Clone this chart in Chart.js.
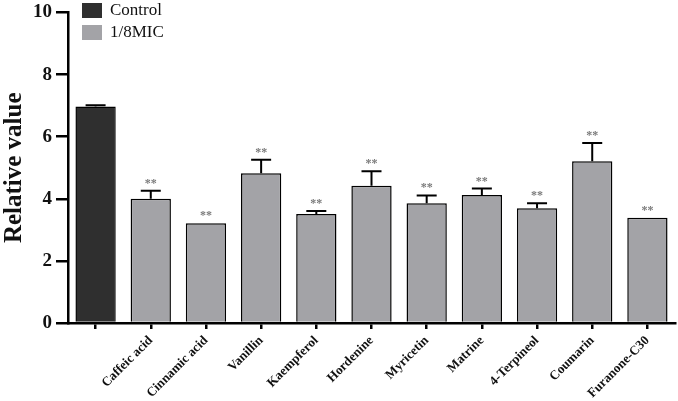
<!DOCTYPE html>
<html>
<head>
<meta charset="utf-8">
<script src="https://cdn.jsdelivr.net/npm/chart.js@4"></script>
<style>
  html, body { margin: 0; padding: 0; background: #fff; }
  #wrap { width: 678px; height: 401px; }
</style>
</head>
<body>
<div id="wrap"><canvas id="barChart" width="678" height="401"></canvas></div>
<script>
const categories = ["", "Caffeic acid", "Cinnamic acid", "Vanillin", "Kaempferol", "Hordenine",
  "Myricetin", "Matrine", "4-Terpineol", "Coumarin", "Furanone-C30"];
const means = [6.97, 4.0, 3.21, 4.82, 3.51, 4.42, 3.86, 4.12, 3.70, 5.21, 3.39];
const errors = [0.04, 0.26, 0.0, 0.44, 0.1, 0.47, 0.25, 0.21, 0.16, 0.59, 0.0];
const stars = ["", "**", "**", "**", "**", "**", "**", "**", "**", "**", "**"];
const yTicks = [0, 2, 4, 6, 8, 10];
const legendNames = ["Control", "1/8MIC"];

const controlColor = "#2f2f2f";
const micColor = "#a3a3a7";
const serif = "'Liberation Serif', 'Times New Roman', serif";

// error bars, stars and legend drawn on top of the bars
const extras = {
    id: 'extras',
    afterDatasetsDraw(chart) {
        const ctx = chart.ctx;
        const x = chart.scales.x, y = chart.scales.y;
        ctx.save();
        means.forEach((m, i) => {
            const cx = x.getPixelForValue(i);
            const top = y.getPixelForValue(m);
            const et = y.getPixelForValue(m + errors[i]);
            if (errors[i] > 0) {
                ctx.strokeStyle = '#000';
                ctx.lineWidth = 2;
                ctx.beginPath();
                ctx.moveTo(cx, top);
                ctx.lineTo(cx, et);
                ctx.moveTo(cx - 10, et);
                ctx.lineTo(cx + 10, et);
                ctx.stroke();
            }
            if (stars[i]) {
                ctx.fillStyle = '#7a7a7a';
                ctx.font = 'bold 12px ' + serif;
                ctx.textAlign = 'center';
                ctx.textBaseline = 'bottom';
                ctx.fillText(stars[i], cx, et - 1);
            }
        });
        // legend
        const boxes = [controlColor, micColor];
        legendNames.forEach((name, k) => {
            const by = 3 + k * 22;
            ctx.fillStyle = boxes[k];
            ctx.fillRect(82, by, 20, 15);
            ctx.fillStyle = '#111';
            ctx.font = '17px ' + serif;
            ctx.textAlign = 'left';
            ctx.textBaseline = 'middle';
            ctx.fillText(name, 110, by + 8);
        });
        ctx.restore();
    }
};

const ctx = document.getElementById('barChart');
const chart = new Chart(ctx, {
    type: 'bar',
    data: {
        labels: categories,
        datasets: [{
            data: means,
            backgroundColor: means.map((v, i) => i === 0 ? controlColor : micColor),
            borderColor: '#000',
            borderWidth: 1.5,
            barPercentage: 0.73,
            categoryPercentage: 1.0
        }]
    },
    options: {
        responsive: false,
        animation: false,
        layout: { padding: { top: 4, right: 3, left: 0, bottom: 0 } },
        plugins: { legend: { display: false }, tooltip: { enabled: false } },
        scales: {
            x: {
                grid: { offset: false, drawOnChartArea: false, drawTicks: true, tickLength: 6, color: '#000', lineWidth: 2.5 },
                border: { color: '#000', width: 2.5 },
                ticks: {
                    color: '#111',
                    font: { family: serif, size: 13, weight: 'bold' },
                    minRotation: 45, maxRotation: 45,
                    autoSkip: false,
                    padding: 4
                },
                afterFit(s) { s.height = 78; }
            },
            y: {
                min: 0, max: 10,
                afterBuildTicks(s) { s.ticks = yTicks.map(v => ({ value: v })); },
                grid: { drawOnChartArea: false, drawTicks: true, tickLength: 12, color: '#000', lineWidth: 2.5 },
                border: { color: '#000', width: 2.5 },
                ticks: {
                    color: '#111',
                    font: { family: serif, size: 19, weight: 'bold', lineHeight: 0.9 },
                    padding: 4
                },
                title: {
                    display: true,
                    text: 'Relative value',
                    color: '#111',
                    font: { family: serif, size: 25, weight: 'bold' },
                    padding: { top: 0, bottom: 2 }
                },
                afterFit(s) { s.width = 68; }
            }
        }
    },
    plugins: [extras]
});
</script>
</body>
</html>
